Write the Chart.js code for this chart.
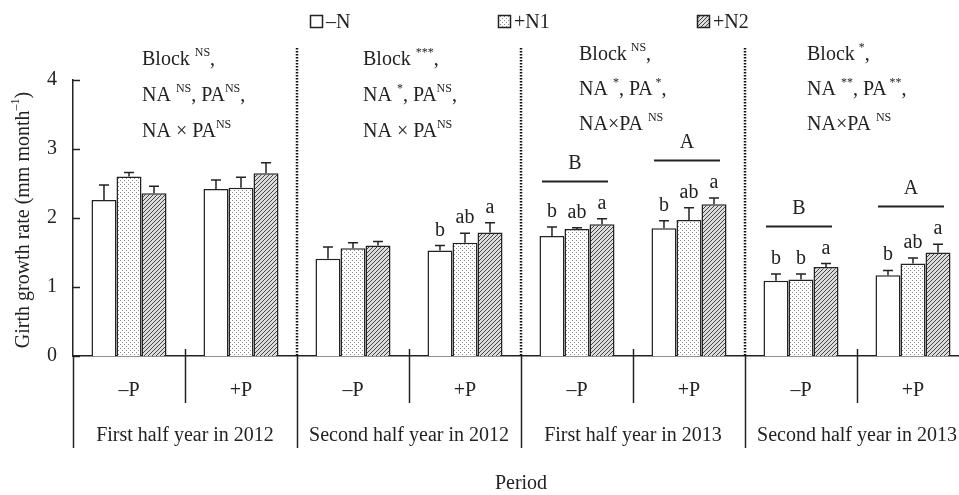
<!DOCTYPE html>
<html>
<head>
<meta charset="utf-8">
<script src="https://cdn.jsdelivr.net/npm/chart.js@4/dist/chart.umd.min.js"></script>
<style>
  html, body { margin: 0; padding: 0; background: #fff; overflow: hidden; width: 959px; height: 495px; }
  #wrap { position: relative; width: 975px; height: 495px; }
</style>
</head>
<body>
<div id="wrap"><canvas id="c" width="975" height="495"></canvas></div>
<script>
// P level within each period
const categories = ['–P', '+P', '–P', '+P', '–P', '+P', '–P', '+P'];
const periods = ['First half year in 2012', 'Second half year in 2012', 'First half year in 2013', 'Second half year in 2013'];
const seriesNames = ['–N', '+N1', '+N2'];

// girth growth rate (mm month-1), means and standard errors
const minusN = [2.26, 2.42, 1.41, 1.53, 1.74, 1.85, 1.09, 1.17];
const plusN1 = [2.60, 2.44, 1.56, 1.64, 1.84, 1.97, 1.11, 1.34];
const plusN2 = [2.36, 2.65, 1.60, 1.79, 1.91, 2.20, 1.29, 1.50];
const errMinusN = [0.22, 0.13, 0.17, 0.07, 0.13, 0.11, 0.10, 0.07];
const errPlusN1 = [0.06, 0.15, 0.08, 0.14, 0.02, 0.18, 0.08, 0.08];
const errPlusN2 = [0.10, 0.15, 0.06, 0.14, 0.08, 0.09, 0.05, 0.12];

// multiple-comparison letters
const lettersMinusN = ['', '', '', 'b', 'b', 'b', 'b', 'b'];
const lettersPlusN1 = ['', '', '', 'ab', 'ab', 'ab', 'b', 'ab'];
const lettersPlusN2 = ['', '', '', 'a', 'a', 'a', 'a', 'a'];
const pLetters = ['', '', '', '', 'B', 'A', 'B', 'A'];

// ANOVA significance per period
const blockSig = ['NS', '***', 'NS', '*'];
const naSig = ['NS', '*', '*', '**'];
const paSig = ['NS', 'NS', '*', '**'];
const naPaSig = ['NS', 'NS', 'NS', 'NS'];

const yTicks = [0, 1, 2, 3, 4];

const INK = '#222';
const SERIF = '"Liberation Serif", "Times New Roman", serif';

function dotPattern() {
  const c = document.createElement('canvas');
  c.width = 4; c.height = 4;
  const g = c.getContext('2d');
  g.fillStyle = '#fff'; g.fillRect(0, 0, 4, 4);
  g.fillStyle = '#8a8a8a';
  g.fillRect(0, 0, 1, 1);
  g.fillRect(2, 2, 1, 1);
  return g.createPattern(c, 'repeat');
}
function hatchPattern() {
  const s = 4;
  const c = document.createElement('canvas');
  c.width = s; c.height = s;
  const g = c.getContext('2d');
  g.fillStyle = '#dcdcdc'; g.fillRect(0, 0, s, s);
  g.strokeStyle = '#444'; g.lineWidth = 1;
  g.beginPath();
  g.moveTo(0, s); g.lineTo(s, 0);
  g.moveTo(-1, 1); g.lineTo(1, -1);
  g.moveTo(s - 1, s + 1); g.lineTo(s + 1, s - 1);
  g.stroke();
  return g.createPattern(c, 'repeat');
}
const fills = ['#ffffff', dotPattern(), hatchPattern()];
const values = [minusN, plusN1, plusN2];
const errors = [errMinusN, errPlusN1, errPlusN2];
const letters = [lettersMinusN, lettersPlusN1, lettersPlusN2];

// layout of the significance notes (left offset from period start, baselines)
const noteOffset = [69, 66, 58, 62];
const noteBaselines = [[65, 101, 137], [65, 101, 137], [60, 95, 130], [60, 95, 130]];
const legendBoxX = [310, 498, 697];

function drawRich(ctx, x, y, parts) {
  let cx = x;
  for (const [txt, sup] of parts) {
    if (sup) {
      ctx.font = '12px ' + SERIF;
      ctx.fillText(txt, cx, y - 9);
    } else {
      ctx.font = '20px ' + SERIF;
      ctx.fillText(txt, cx, y);
    }
    cx += ctx.measureText(txt).width;
  }
}

const decorations = {
  id: 'decorations',
  afterDraw(chart) {
    const ctx = chart.ctx;
    const xs = chart.scales.x, ys = chart.scales.y;
    const area = chart.chartArea;
    const base = ys.getPixelForValue(0);
    ctx.save();
    ctx.fillStyle = INK;
    ctx.strokeStyle = INK;

    // inward y ticks
    ctx.lineWidth = 1.5;
    for (const v of yTicks) {
      const y = Math.round(ys.getPixelForValue(v)) + 0.5;
      ctx.beginPath(); ctx.moveTo(area.left, y); ctx.lineTo(area.left + 7, y); ctx.stroke();
    }

    // error bars and letters
    ctx.textAlign = 'center';
    ctx.textBaseline = 'alphabetic';
    const groupTop = new Array(categories.length).fill(Infinity);
    for (let d = 0; d < 3; d++) {
      const meta = chart.getDatasetMeta(d);
      meta.data.forEach((bar, i) => {
        const top = ys.getPixelForValue(values[d][i] + errors[d][i]);
        groupTop[i] = Math.min(groupTop[i], top);
        ctx.lineWidth = 1.5;
        ctx.beginPath();
        ctx.moveTo(bar.x, bar.y); ctx.lineTo(bar.x, top);
        ctx.moveTo(bar.x - 5, top); ctx.lineTo(bar.x + 5, top);
        ctx.stroke();
        if (letters[d][i]) {
          ctx.font = '20px ' + SERIF;
          ctx.fillText(letters[d][i], bar.x, top - 10);
        }
      });
    }

    // P-level comparison bars
    pLetters.forEach((lt, i) => {
      if (!lt) return;
      const cx = xs.getPixelForValue(i);
      const ly = Math.round(groupTop[i] - 38) + 0.5;
      ctx.lineWidth = 2;
      ctx.beginPath(); ctx.moveTo(cx - 35, ly); ctx.lineTo(cx + 31, ly); ctx.stroke();
      ctx.font = '20px ' + SERIF;
      ctx.fillText(lt, cx - 2, ly - 13);
    });

    // boundaries between categories
    const bounds = [];
    for (let i = 0; i <= categories.length; i++) {
      if (i === 0) bounds.push(area.left);
      else if (i === categories.length) bounds.push(area.right);
      else bounds.push((xs.getPixelForValue(i - 1) + xs.getPixelForValue(i)) / 2);
    }
    ctx.lineWidth = 1.5;
    for (let i = 0; i < categories.length; i++) {
      const x = Math.round(bounds[i]) + 0.5;
      ctx.beginPath();
      if (i % 2 === 1) { ctx.moveTo(x, base - 7); ctx.lineTo(x, base + 47); }
      else { ctx.moveTo(x, base); ctx.lineTo(x, base + 92); }
      ctx.stroke();
    }
    // dotted period separators
    ctx.save();
    ctx.setLineDash([1.5, 1.5]);
    ctx.lineWidth = 2.5;
    ctx.strokeStyle = '#111';
    for (let p = 1; p < periods.length; p++) {
      const x = Math.round(bounds[2 * p]);
      ctx.beginPath(); ctx.moveTo(x, 48); ctx.lineTo(x, base); ctx.stroke();
    }
    ctx.restore();

    // period labels
    ctx.font = '20px ' + SERIF;
    ctx.textBaseline = 'middle';
    periods.forEach((p, k) => {
      ctx.fillText(p, (bounds[2 * k] + bounds[2 * k + 2]) / 2, 436);
    });
    ctx.fillText('Period', (area.left + area.right) / 2, 484);

    // y-axis title
    ctx.save();
    ctx.translate(24, (area.top + base) / 2 + 2);
    ctx.rotate(-Math.PI / 2);
    ctx.textAlign = 'left';
    ctx.textBaseline = 'middle';
    ctx.font = '20px ' + SERIF;
    const t1 = 'Girth growth rate (mm month';
    const t3 = ')';
    ctx.font = '12px ' + SERIF;
    const w2 = ctx.measureText('–1').width;
    ctx.font = '20px ' + SERIF;
    const w1 = ctx.measureText(t1).width, w3 = ctx.measureText(t3).width;
    let sx = -(w1 + w2 + w3) / 2;
    ctx.fillText(t1, sx, 0); sx += w1;
    ctx.font = '12px ' + SERIF;
    ctx.fillText('–1', sx, -8); sx += w2;
    ctx.font = '20px ' + SERIF;
    ctx.fillText(t3, sx, 0);
    ctx.restore();

    // significance notes
    ctx.textAlign = 'left';
    ctx.textBaseline = 'alphabetic';
    periods.forEach((p, k) => {
      const x = bounds[2 * k] + noteOffset[k];
      const [b1, b2, b3] = noteBaselines[k];
      const tight = k >= 2;
      drawRich(ctx, x, b1, [[tight ? 'Block\u2009' : 'Block ', false], [blockSig[k], true], [',', false]]);
      drawRich(ctx, x, b2, [['NA ', false], [naSig[k], true], [', PA', false], [(paSig[k] === 'NS' ? '' : ' ') + paSig[k], true], [',', false]]);
      drawRich(ctx, x, b3, [[tight ? 'NA×PA ' : 'NA × PA', false], [naPaSig[k], true]]);
    });

    // legend
    seriesNames.forEach((name, d) => {
      const bx = legendBoxX[d] + 0.5, by = 15.5;
      ctx.fillStyle = fills[d];
      ctx.fillRect(bx, by, 12, 12);
      ctx.lineWidth = 1.5;
      ctx.strokeStyle = INK;
      ctx.strokeRect(bx, by, 12, 12);
      ctx.fillStyle = INK;
      ctx.font = '20px ' + SERIF;
      ctx.fillText(name, legendBoxX[d] + 16, 28);
    });

    ctx.restore();
  }
};

new Chart(document.getElementById('c'), {
  type: 'bar',
  data: {
    labels: categories,
    datasets: values.map((v, d) => ({
      label: seriesNames[d],
      data: v,
      backgroundColor: fills[d],
      borderColor: INK,
      borderWidth: 1.5
    }))
  },
  options: {
    responsive: false,
    animation: false,
    devicePixelRatio: 1,
    layout: { padding: { top: 80, right: 6, left: 0, bottom: 0 } },
    datasets: { bar: { categoryPercentage: 0.67, barPercentage: 1 } },
    plugins: { legend: { display: false }, tooltip: { enabled: false } },
    scales: {
      x: {
        grid: { display: false, drawTicks: false },
        border: { display: true, color: INK, width: 1.5 },
        ticks: { color: INK, font: { family: SERIF, size: 20 }, padding: 23, maxRotation: 0, autoSkip: false },
        afterFit(s) { s.height = 139; }
      },
      y: {
        min: 0, max: 4,
        afterBuildTicks(s) { s.ticks = yTicks.map(v => ({ value: v })); },
        grid: { display: false, drawTicks: false },
        border: { display: true, color: INK, width: 1.5 },
        ticks: { color: INK, font: { family: SERIF, size: 20 }, padding: 16 },
        afterFit(s) { s.width = 73; }
      }
    }
  },
  plugins: [decorations]
});
</script>
</body>
</html>
